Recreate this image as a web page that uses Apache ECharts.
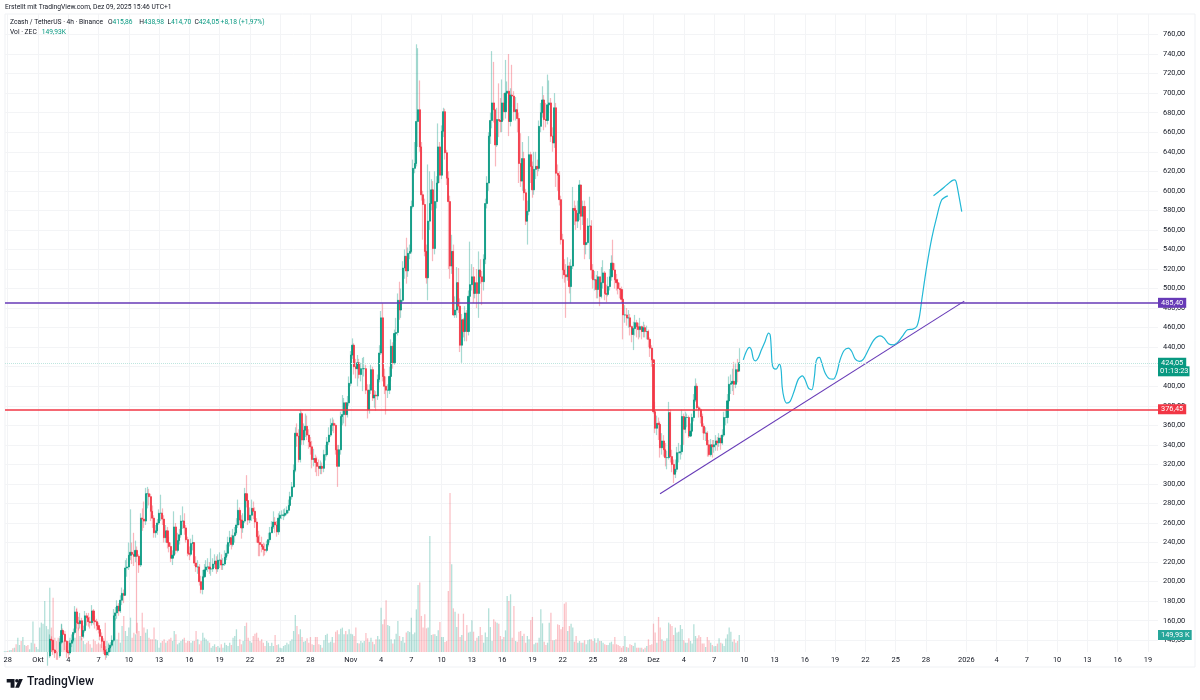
<!DOCTYPE html>
<html lang="de">
<head>
<meta charset="UTF-8">
<title>Zcash / TetherUS</title>
<script src="https://cdn.jsdelivr.net/npm/echarts@6/dist/echarts.min.js"></script>
<style>
html,body{margin:0;padding:0;background:#fff}
#chart{width:1200px;height:700px}
</style>
</head>
<body>
<div id="chart"></div>
<script>
// 4h bars, 6 per row from the first of October on. bar 20 = Okt 1 00:00
var closes = [
  62,63,61,64,66,65,68,67,70,72,71,74,76,75,73,78,80,83,82,85,88,92,98,104,110,116,
  124,141,140,130,127,125, 124,138,150,146,139,128, 127,137,140,148,169,158,
  157,160,144,150,165,163, 159,158,170,160,159,155, 151,144,139,130,125,128,
  132,135,140,165,168,175, 170,181,188,186,214,215, 227,230,228,226,232,226,
  217,265,264,262,290,290, 287,272,265,250,252,260, 270,270,264,245,252,240,
  236,224,227,256,232,242, 248,262,262,255,243,229, 228,239,240,219,215,215,
  200,192,205,212,215,215, 213,213,218,221,213,222, 222,217,218,225,229,240,
  245,238,247,250,258,273, 263,255,262,290,283,263, 268,275,272,261,246,240,
  238,236,233,232,238,243, 250,256,261,258,251,265, 268,268,268,270,273,278,
  287,297,314,352,349,325, 372,345,355,359,350,343, 338,325,326,322,318,316,
  318,316,330,330,343,350, 360,362,360,335,318,335, 369,371,383,371,383,403,
  432,442,420,418,424,412, 418,418,418,396,376,396, 417,388,391,390,407,434,
  470,410,400,396,396,410, 441,424,454,455,488,478, 488,521,533,518,536,538,
  584,623,628,671,683,645, 596,586,538,511,569,587, 601,541,589,608,645,616,
  661,681,639,613,589,523, 538,473,478,506,482,442, 468,456,475,456,492,504,
  512,495,506,495,519,512, 507,530,587,608,656,672, 690,683,647,673,672,671,
  690,681,700,702,671,698, 697,681,683,674,628,610, 633,598,569,579,637,625,
  601,622,625,623,666,680, 693,673,672,688,690,656, 649,685,618,616,591,550,
  519,514,512,523,502,523, 582,580,569,577,606,574, 584,545,547,564,564,519,
  509,509,499,512,492,506, 516,495,494,502,512,526, 519,509,506,500,499,489,
  473,473,470,470,461,453, 459,465,461,458,461,456, 460,456,456,448,439,427,
  374,357,362,361,337,344, 335,327,327,373,328,320, 310,315,332,332,333,369,
  356,368,368,349,354,368, 386,400,378,376,369,359, 352,352,340,330,340,338,
  340,344,342,347,342,350, 368,368,385,402,403,405, 402,417,415,424.05
];
var highs = [
  66,66,65,67,68,69,71,70,73,75,74,77,79,78,77,81,83,86,85,88,92,97,103,110,116,122,
  128,146,144,141,131,129, 128,142,157,152,147,140, 130,140,146,152,175,172,
  164,168,163,155,170,168, 168,164,176,172,165,162, 158,153,148,142,134,131,
  136,138,145,172,174,181, 178,186,194,192,222,224, 240,274,240,250,242,236,
  228,270,275,282,296,297, 295,290,278,268,258,264, 274,289,275,268,258,256,
  246,240,232,272,260,250, 254,268,277,270,258,246, 236,244,248,240,226,222,
  218,206,212,218,222,224, 220,234,224,228,226,228, 230,228,224,232,238,246,
  252,248,254,256,265,284, 276,268,270,296,309,290, 276,284,282,276,265,252,
  248,246,240,239,242,250, 256,262,272,266,262,270, 272,273,274,275,277,284,
  292,302,320,358,362,356, 376,374,362,372,370,356, 348,344,336,330,328,325,
  324,322,335,340,348,358, 367,368,366,362,340,340, 374,391,388,384,390,410,
  436,449,444,428,432,428, 424,429,430,422,402,402, 422,420,396,395,412,442,
  477,485,418,410,402,420, 448,445,458,470,495,507, 500,528,540,552,542,545,
  590,632,650,750,746,713, 650,600,592,545,627,620, 612,610,620,615,669,650,
  667,685,684,642,620,595, 555,545,492,522,521,490, 474,470,482,478,498,548,
  525,522,512,520,538,530, 518,535,592,615,660,680, 743,732,660,685,710,695,
  714,700,734,712,740,705, 729,702,696,690,680,659, 650,640,602,590,656,640,
  630,640,640,632,672,690, 707,698,690,719,713,695, 665,700,690,627,620,595,
  556,530,525,532,527,530, 604,590,585,590,611,600, 590,590,560,572,594,570,
  525,518,514,518,510,522, 529,518,504,512,520,534, 550,526,515,510,506,502,
  490,483,480,478,474,462, 466,473,468,465,470,462, 466,463,462,458,450,442,
  428,384,370,368,364,352, 350,342,334,384,376,335, 325,325,338,342,340,376,
  372,374,372,370,362,372, 392,408,403,380,378,372, 362,358,354,345,346,345,
  345,350,348,352,350,356, 374,376,392,410,412,418, 425,424,428,438.98
];
var lows = [
  60,61,59,61,63,63,65,65,67,69,69,71,73,72,71,73,78,80,80,82,85,88,92,98,104,110,
  114,122,128,125,122,120, 120,122,136,139,130,122, 122,125,133,138,146,152,
  150,152,140,142,148,155, 154,152,155,156,152,150, 147,140,132,126,120,122,
  124,128,133,138,160,162, 165,168,176,178,186,205, 212,222,218,216,220,147,
  209,215,252,255,258,275, 278,262,255,245,245,248, 258,262,258,240,240,234,
  230,220,217,225,228,230, 238,245,254,248,240,226, 222,226,232,216,210,208,
  196,188,187,204,208,210, 208,206,210,214,208,210, 214,212,212,216,222,226,
  236,233,236,240,248,255, 258,244,250,260,276,258, 260,262,264,255,240,226,
  226,230,226,227,230,236, 240,250,254,250,246,248, 262,264,263,266,268,270,
  276,284,296,312,338,322, 322,340,340,348,345,336, 330,316,318,312,308,308,
  310,310,312,324,328,340, 348,354,352,330,297,318, 330,360,362,359,368,380,
  400,428,412,408,400,408, 405,395,410,392,367,372, 392,385,378,375,386,404,
  432,405,392,371,388,392, 405,418,422,446,452,468, 470,486,510,505,512,530,
  536,582,618,625,645,640, 590,550,533,505,488,560, 580,528,535,582,600,608,
  612,655,632,606,520,510, 515,472,470,470,475,435, 424,450,446,446,452,486,
  498,485,490,480,470,505, 483,498,525,582,600,648, 664,670,625,645,655,660,
  660,672,674,690,656,666, 686,672,672,660,608,604, 600,590,565,545,575,608,
  593,596,612,615,620,660, 675,662,665,668,680,650, 640,644,604,600,585,545,
  510,506,470,508,495,485, 520,565,560,562,570,560, 565,530,535,545,530,510,
  500,498,490,490,482,490, 500,488,486,492,498,508, 512,500,498,494,490,485,
  448,465,462,460,452,445, 437,452,450,448,450,448, 450,450,448,440,430,420,
  372,352,350,345,327,330, 328,318,315,325,322,312, 301,306,312,322,325,330,
  340,352,358,347,348,350, 364,384,375,368,362,352, 345,344,328,328,328,327,
  332,334,334,338,335,340, 348,360,362,382,392,395, 391,398,404,414.7
];
// volume in thousand ZEC
var volumes = [
  6,9,9,15,18,32,38,68,126,62, 97,132,62,53,62,24,82,268,74,44,
  24,215,259,250,450,229,200,567,215,479, 126,97,126,141,244,97,185,53,97,126,
  82,112,126,391,215,141,126,97,68,82, 97,68,38,112,97,68,82,68,126,97,
  259,97,82,53,68,126,303,112,170,82, 229,318,185,141,215,303,126,170,156,259,
  185,141,347,215,170,200,126,112,112, 215,112,103,38,82,97,112,82,97,112,
  126,97,185,156,68,82,97,112,126,82, 97,97,82,97,97,185,112,68,97,170,
  126,112,97,82,38,53,68,44,53, 38,68,38,82,62,53,82,62,126,141,
  200,53,112,68,97,229,259,126,97,82, 141,162,170,126,97,112,82,53,97,82,
  53,82,53,150,62,68,38,32,53,62, 82,68,97,112,185,326,229,156,
  200,132,91,97,121,82,132,68,62,132, 132,68,62,38,103,150,162,82,91,132,
  82,179,191,156,206,215,156,185,156,200, 162,156,141,215,79,74,97,82,97,168,
  121,91,126,91,68,112,141,112,391,244, 288,456,238,229,112,74,112,162,273,141,
  97,132,82,171,185,176,303,156,171,376, 591,614,318,215,332,209,215,1023,150,156,
  156,141,191,265,132,132,88,97,538,1402, 773,385,356,220,338,132,150,338,97,238,
  171,179,279,179,97,126,141,220,150,82, 171,132,385,220,97,288,268,259,250,141,
  112,132,191,494,450,509,126,406,97,91, 179,185,141,162,82,141,112,279,309,68,
  82,82,126,376,253,91,62,82,259,347, 103,103,112,244,238,200,220,426,438,185,
  229,250,215,91,141,82,97,82,82,103, 68,103,112,112,97,121,82,121,97,97,
  82,68,62,62,82,91,68,132,68,62, 53,38,53,141,44,38,68,62,53,82,
  38,38,38,38,24,38,53,112,62,68, 250,171,82,309,215,112,97,97,121,259,
  244,229,150,215,171,179,238,203,103,82, 82,121,97,74,244,141,121,147,132,74,
  74,44,132,103,82,62,50,53,74,121, 82,74,53,118,156,215,179,91,112,82,
  97,149.93
];

var firstBarDay = -20 / 6;   // days from Okt 1 of bar 0
var axisStartDay = -3.27;
var axisEndDay = 111;

var dayTicks = [-3,0,3,6,9,12,15,18,21,24,27,31,34,37,40,43,46,49,52,55,58,61,64,67,70,73,76,79,82,85,88,92,95,98,101,104,107,110];
var dayLabels = ['28','Okt','4','7','10','13','16','19','22','25','28','Nov','4','7','10','13','16','19','22','25','28','Dez','4','7','10','13','16','19','22','25','28','2026','4','7','10','13','16','19'];
var priceTicks = [140,160,180,200,220,240,260,280,300,320,340,360,380,400,420,440,460,480,500,520,540,560,580,600,620,640,660,680,700,720,740,760];

var trendDays = [61.65, 91.8];
var trendPrices = [289.9, 487.1];

// hand drawn projection, two strokes
var sketchDays = [69.9,70.2,70.5,70.7,70.9,71.1,71.4,71.7,72.06,72.4,72.56,72.66,72.75,72.89,73.15,73.48,73.65,73.75,73.94,74.2,74.54,74.93,75.36,75.76,76.03,76.36,76.69,76.95,77.08,77.25,77.45,77.68,78.01,78.44,78.83,79.16,79.49,79.89,80.32,80.65,80.98,81.41,81.81,82.3,82.86,83.46,83.86,84.29,84.78,85.28,85.77,86.17,86.7,87.09,87.36,87.59,88.08,88.58,89.08,89.57,90.17];
var sketchPrices = [427,435.6,439.7,437.3,428,426,429.5,437.3,445.9,454.4,452.7,440.7,423.7,418.6,417.5,422.7,416.9,399.8,387.9,382.8,384.5,394.7,407.3,410.7,406.6,398,396.4,410,423.7,428.8,429.5,423.7,413.5,407.7,407.3,413.5,427,436.6,439,435.6,428,425.4,427.8,437.3,447.6,451.6,449.3,443.5,442.4,445.9,452.7,457.8,458.5,461.2,471.4,488.5,522.6,551.6,573.7,590.8,594.9];
var arrowDays = [88.75,89.41,90.07,90.56,90.83,90.99,91.22,91.55];
var arrowPrices = [594.9,600.3,606.1,610.2,611.2,609.5,597.6,578.8];

var upColor = '#089981';
var downColor = '#f23645';
var upWick = 'rgba(8,153,129,0.36)';
var downWick = 'rgba(242,54,69,0.36)';
var upVol = 'rgba(8,153,129,0.3)';
var downVol = 'rgba(242,54,69,0.3)';
var gridColor = '#f3f4f6';
var textColor = '#131722';
var fontName = 'Roboto, sans-serif';

function pairs(xs, ys) {
  return xs.map(function (x, i) { return [x, ys[i]]; });
}

var wickData = [], bodyData = [], volData = [];
closes.forEach(function (c, i) {
  var day = firstBarDay + i / 6;
  var o = i === 0 ? c : closes[i - 1];
  if (i === closes.length - 1) o = 415.86;
  wickData.push([day, o, c, lows[i], highs[i]]);
  bodyData.push([day, o, c, Math.min(o, c), Math.max(o, c)]);
  volData.push({value: [day, volumes[i]], itemStyle: {color: c >= o ? upVol : downVol}});
});

var headerRich = {
  k: {fontSize: 6.7, fontWeight: 'normal', color: textColor, fontFamily: fontName},
  v: {fontSize: 6.7, fontWeight: 'normal', color: upColor, fontFamily: fontName}
};

var myChart = echarts.init(document.getElementById('chart'));
var option = {
  animation: false,
  backgroundColor: '#fff',
  textStyle: {fontFamily: fontName},
  title: [
    {
      left: 5, top: 4, padding: 0,
      text: 'Erstellt mit TradingView.com, Dez 09, 2025 15:46 UTC+1',
      textStyle: {fontSize: 6.7, fontWeight: 'normal', color: textColor, fontFamily: fontName}
    },
    {
      left: 10, top: 19, padding: 0,
      text: '{k|Zcash / TetherUS · 4h · Binance   O}{v|415,86}{k|    H}{v|438,98}{k|  L}{v|414,70}{k|  C}{v|424,05}{v| +8,18 (+1,97%)}',
      textStyle: {rich: headerRich}
    },
    {
      left: 10, top: 29, padding: 0,
      text: '{k|Vol · ZEC   }{v|149,93K}',
      textStyle: {rich: headerRich}
    },
    {
      left: 27, top: 676, padding: 0,
      text: 'TradingView',
      textStyle: {fontSize: 12, fontWeight: 500, color: '#131722', fontFamily: fontName}
    }
  ],
  graphic: [
    {
      type: 'rect', silent: true, z: -1,
      shape: {x: 5, y: 14, width: 1190, height: 653},
      style: {fill: 'none', stroke: '#eff1f4', lineWidth: 1}
    },
    {
      type: 'polygon', silent: true,
      shape: {points: [[6.7, 679], [14.5, 679], [14.5, 687.7], [10.6, 687.7], [10.6, 682.6], [6.7, 682.6]]},
      style: {fill: '#131722'}
    },
    {
      type: 'circle', silent: true,
      shape: {cx: 16.9, cy: 680.8, r: 1.8},
      style: {fill: '#131722'}
    },
    {
      type: 'polygon', silent: true,
      shape: {points: [[19, 679], [22.8, 679], [19, 687.7], [15.2, 687.7]]},
      style: {fill: '#131722'}
    }
  ],
  grid: {left: 5, top: 14, right: 42, bottom: 48},
  xAxis: {
    type: 'value',
    min: axisStartDay,
    max: axisEndDay,
    axisLine: {show: false},
    axisTick: {show: false, customValues: dayTicks},
    splitLine: {show: true, lineStyle: {color: gridColor, width: 1}},
    axisLabel: {
      customValues: dayTicks,
      margin: 5,
      fontSize: 7.4,
      color: textColor,
      formatter: function (v) { return dayLabels[dayTicks.indexOf(v)]; }
    }
  },
  yAxis: [
    {
      type: 'value',
      position: 'right',
      min: 128,
      max: 781,
      axisLine: {show: false},
      axisTick: {show: false, customValues: priceTicks},
      splitLine: {show: true, lineStyle: {color: gridColor, width: 1}},
      axisLabel: {
        customValues: priceTicks,
        margin: 5,
        fontSize: 7.4,
        color: textColor,
        formatter: function (v) { return v.toFixed(2).replace('.', ','); }
      }
    },
    {
      type: 'value',
      show: false,
      min: 0,
      max: 5627
    }
  ],
  series: [
    {
      name: 'Vol',
      type: 'bar',
      yAxisIndex: 1,
      barWidth: 1.3,
      data: volData,
      silent: true,
      markLine: {
        silent: true,
        symbol: 'none',
        label: {
          position: 'end', distance: 0, color: '#fff', fontSize: 7.4,
          padding: [1.5, 2, 1.5, 3], fontFamily: fontName
        },
        data: [
          {yAxis: 149.93, lineStyle: {color: 'transparent', width: 0},
            label: {formatter: '149,93 K', backgroundColor: '#26a69a'}}
        ]
      }
    },
    {
      name: 'wicks',
      type: 'candlestick',
      barWidth: 0.5,
      data: wickData,
      silent: true,
      itemStyle: {
        color: 'transparent', color0: 'transparent',
        borderColor: upWick, borderColor0: downWick, borderWidth: 1.2
      }
    },
    {
      name: 'ZECUSDT',
      type: 'candlestick',
      barWidth: 1.6,
      data: bodyData,
      silent: true,
      itemStyle: {
        color: upColor, color0: downColor,
        borderColor: upColor, borderColor0: downColor, borderWidth: 0.8
      },
      markLine: {
        silent: true,
        symbol: 'none',
        label: {
          position: 'end', distance: 0, color: '#fff', fontSize: 7.4,
          padding: [1.5, 3, 1.5, 3], fontFamily: fontName
        },
        data: [
          {yAxis: 485.4, lineStyle: {color: '#673ab7', width: 1.5, type: 'solid', opacity: 1},
            label: {formatter: '485,40', backgroundColor: '#673ab7'}},
          {yAxis: 376.45, lineStyle: {color: '#f23645', width: 1.5, type: 'solid', opacity: 1},
            label: {formatter: '376,45', backgroundColor: '#f23645'}},
          {yAxis: 424.05, lineStyle: {color: '#bfe6df', width: 1, type: 'dotted', opacity: 1},
            label: {formatter: '424,05', backgroundColor: upColor}},
          {yAxis: 415.3, lineStyle: {color: 'transparent', width: 0},
            label: {formatter: '01:13:23', backgroundColor: upColor, padding: [1.5, 1, 1.5, 2]}}
        ]
      }
    },
    {
      name: 'trend',
      type: 'line',
      data: pairs(trendDays, trendPrices),
      showSymbol: false,
      silent: true,
      lineStyle: {color: '#673ab7', width: 1.1}
    },
    {
      name: 'sketch',
      type: 'line',
      data: pairs(sketchDays, sketchPrices),
      showSymbol: false,
      silent: true,
      smooth: 0.3,
      lineStyle: {color: '#22b8d6', width: 1.2}
    },
    {
      name: 'sketch2',
      type: 'line',
      data: pairs(arrowDays, arrowPrices),
      showSymbol: false,
      silent: true,
      smooth: 0.3,
      lineStyle: {color: '#22b8d6', width: 1.2}
    }
  ]
};
myChart.setOption(option);
</script>
</body>
</html>
